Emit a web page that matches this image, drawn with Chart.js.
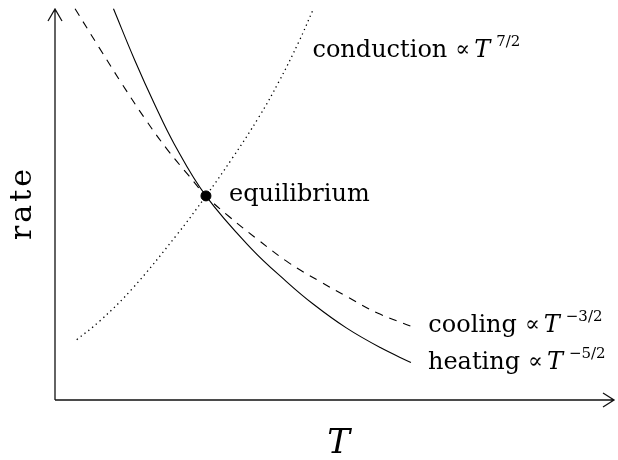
<!DOCTYPE html>
<html lang="en">
<head>
  <meta charset="UTF-8">
  <title>Thermal equilibrium: heating, cooling and conduction</title>
  <script src="https://cdn.jsdelivr.net/npm/chart.js"></script>
  <style>
    body { margin: 0; background: #fff; }
    #wrap { width: 618px; height: 460px; }
  </style>
</head>
<body>
  <div id="wrap">
    <canvas id="rateChart" width="618" height="460"></canvas>
  </div>

  <script>
    // Values (arbitrary units, T 0..10, rate 0..10)
    const heatingT    = [1.05, 1.43, 1.79, 2.14, 2.71, 3.52, 4.16, 4.64, 5.23, 5.84, 6.39];
    const heatingRate = [9.93, 8.63, 7.50, 6.50, 5.18, 3.85, 3.00, 2.43, 1.83, 1.33, 0.95];

    const coolingT    = [0.36, 0.79, 1.20, 1.61, 2.02, 2.41, 2.71, 3.13, 3.66, 4.20, 4.73, 5.27, 5.80, 6.38];
    const coolingRate = [9.93, 8.95, 8.03, 7.15, 6.35, 5.68, 5.18, 4.65, 4.05, 3.48, 3.03, 2.60, 2.20, 1.88];

    const conductionT    = [0.39, 0.80, 1.39, 2.18, 2.71, 3.18, 3.66, 4.02, 4.38, 4.64];
    const conductionRate = [1.53, 2.00, 2.83, 4.18, 5.18, 6.13, 7.18, 8.08, 9.10, 9.93];

    const equilibriumT = 2.71;
    const equilibriumRate = 5.18;

    const axisMax = { T: 10, rate: 10 };

    const toPoints = (xs, ys) => xs.map((x, i) => ({ x, y: ys[i] }));

    const SERIF = '"DejaVu Serif", "Liberation Serif", serif';

    // draw "word ∝ T^exp" as one run of mixed fonts
    function drawLaw(ctx, x, y, word, exp) {
      ctx.save();
      ctx.fillStyle = '#000';
      ctx.textBaseline = 'alphabetic';
      ctx.textAlign = 'left';
      ctx.font = '24px ' + SERIF;
      ctx.fillText(word, x, y);
      x += ctx.measureText(word).width + 8;
      ctx.font = '22px ' + SERIF;
      ctx.fillText('\u221D', x, y - 1);
      x += ctx.measureText('\u221D').width + 4;
      ctx.font = 'italic 24px ' + SERIF;
      ctx.fillText('T', x, y);
      x += ctx.measureText('T').width + 6;
      ctx.font = '15px ' + SERIF;
      ctx.fillText(exp, x, y - 11);
      ctx.restore();
    }

    const decorations = {
      id: 'decorations',
      beforeDatasetsDraw(chart) {
        const { ctx, scales: { x, y } } = chart;
        const x0 = x.getPixelForValue(0);
        const y0 = y.getPixelForValue(0);
        const yTop = y.getPixelForValue(axisMax.rate) + 3;
        const xEnd = x.getPixelForValue(axisMax.T) + 2;
        ctx.save();
        ctx.strokeStyle = '#111';
        ctx.lineWidth = 1.3;
        ctx.beginPath();
        ctx.moveTo(x0, y0); ctx.lineTo(x0, yTop);
        ctx.moveTo(x0 - 7, yTop + 12); ctx.lineTo(x0, yTop); ctx.lineTo(x0 + 7, yTop + 12);
        ctx.moveTo(x0, y0); ctx.lineTo(xEnd, y0);
        ctx.moveTo(xEnd - 11, y0 - 7); ctx.lineTo(xEnd, y0); ctx.lineTo(xEnd - 11, y0 + 7);
        ctx.stroke();

        // axis titles
        ctx.fillStyle = '#000';
        ctx.font = 'italic 34px ' + SERIF;
        ctx.textAlign = 'center';
        ctx.textBaseline = 'alphabetic';
        ctx.fillText('T', x.getPixelForValue(axisMax.T / 2) + 5, y0 + 53);

        ctx.translate(31, y.getPixelForValue(axisMax.rate / 2));
        ctx.rotate(-Math.PI / 2);
        ctx.font = '30px ' + SERIF;
        ctx.letterSpacing = '3px';
        ctx.fillText('rate', 0, 0);
        ctx.restore();
      },
      afterDatasetsDraw(chart) {
        const { ctx, scales: { x, y } } = chart;
        const last = a => a[a.length - 1];

        drawLaw(ctx, x.getPixelForValue(last(conductionT)) - 1, y.getPixelForValue(last(conductionRate)) + 48,
          'conduction', '7/2');
        drawLaw(ctx, x.getPixelForValue(last(coolingT)) + 18, y.getPixelForValue(last(coolingRate)) + 6,
          'cooling', '\u22123/2');
        drawLaw(ctx, x.getPixelForValue(last(heatingT)) + 17, y.getPixelForValue(last(heatingRate)) + 6,
          'heating', '\u22125/2');

        ctx.save();
        ctx.fillStyle = '#000';
        ctx.font = '24px ' + SERIF;
        ctx.textBaseline = 'alphabetic';
        ctx.fillText('equilibrium', x.getPixelForValue(equilibriumT) + 23, y.getPixelForValue(equilibriumRate) + 5);
        ctx.restore();
      }
    };

    const ctx = document.getElementById('rateChart').getContext('2d');
    new Chart(ctx, {
      type: 'scatter',
      data: {
        datasets: [
          { label: 'heating', data: toPoints(heatingT, heatingRate), showLine: true,
            borderColor: '#000', borderWidth: 1.1, pointRadius: 0, tension: 0.4 },
          { label: 'cooling', data: toPoints(coolingT, coolingRate), showLine: true,
            borderColor: '#000', borderWidth: 1.1, borderDash: [8, 7], pointRadius: 0, tension: 0.4 },
          { label: 'conduction', data: toPoints(conductionT, conductionRate), showLine: true,
            borderColor: '#000', borderWidth: 1.3, borderDash: [1.3, 3.6], pointRadius: 0, tension: 0.4 },
          { label: 'equilibrium', data: [{ x: equilibriumT, y: equilibriumRate }],
            pointRadius: 5, backgroundColor: '#000', borderColor: '#000' }
        ]
      },
      options: {
        responsive: false,
        animation: false,
        layout: { padding: { left: 55, right: 3, top: 0, bottom: 60 } },
        scales: {
          x: { type: 'linear', display: false, min: 0, max: axisMax.T },
          y: { type: 'linear', display: false, min: 0, max: axisMax.rate }
        },
        plugins: { legend: { display: false }, tooltip: { enabled: false } }
      },
      plugins: [decorations]
    });
  </script>
</body>
</html>
